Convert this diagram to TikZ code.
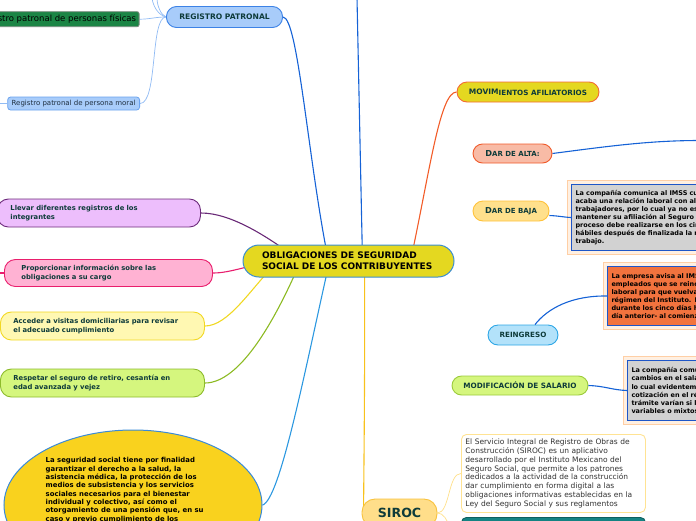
\documentclass[tikz,border=0pt]{standalone}
\usepackage{fontspec}
\setmainfont{DejaVu Sans}
\usetikzlibrary{shapes.geometric,calc}
\pgfdeclarelayer{bg}
\pgfsetlayers{bg,main}
\definecolor{centralfill}{HTML}{E4D820}
\definecolor{centralborder}{HTML}{3A8DD0}
\definecolor{rpfill}{HTML}{A8CCFA}
\definecolor{rpborder}{HTML}{3C82E6}
\definecolor{fisfill}{HTML}{1B8545}
\definecolor{fisborder}{HTML}{7A8A7E}
\definecolor{moralborder}{HTML}{6AA2EE}
\definecolor{moraltxt}{HTML}{1F2F3F}
\definecolor{movborder}{HTML}{F36A33}
\definecolor{altafill}{HTML}{F8BBA6}
\definecolor{altaborder}{HTML}{F05A2A}
\definecolor{bajafill}{HTML}{FFE08C}
\definecolor{bajaborder}{HTML}{FFC23A}
\definecolor{reinfill}{HTML}{B3E2FA}
\definecolor{reinborder}{HTML}{2CA6E6}
\definecolor{modfill}{HTML}{D5F67E}
\definecolor{modborder}{HTML}{9CCB3C}
\definecolor{infogray}{HTML}{D2D2D2}
\definecolor{infoblue}{HTML}{1E56C8}
\definecolor{peachdark}{HTML}{FFCFA5}
\definecolor{peachlight}{HTML}{FFF0E2}
\definecolor{reinbox}{HTML}{F2733E}
\definecolor{lavfill}{HTML}{EDBEFC}
\definecolor{lavborder}{HTML}{6E2C7C}
\definecolor{pinkfill}{HTML}{FFB2D3}
\definecolor{pinkborder}{HTML}{E91E6C}
\definecolor{yelfill}{HTML}{FFF8B2}
\definecolor{yelborder}{HTML}{F2D823}
\definecolor{grnfill}{HTML}{D5F67E}
\definecolor{grnborder}{HTML}{8DBB2C}
\definecolor{finfill}{HTML}{F9D21E}
\definecolor{finborder}{HTML}{3A8AD8}
\definecolor{sirocfill}{HTML}{FFDE8A}
\definecolor{sirocborder}{HTML}{F8C23C}
\definecolor{descborder}{HTML}{FFE393}
\definecolor{desctxt}{HTML}{333333}
\definecolor{tealfill}{HTML}{148383}
\definecolor{tealborder}{HTML}{0D5F5F}
\definecolor{txtteal}{HTML}{0E3B3A}
\definecolor{lineblue}{HTML}{1562D6}
\definecolor{linelightblue}{HTML}{90BBF4}
\definecolor{lineorange}{HTML}{F25C28}
\definecolor{linepurple}{HTML}{6A2A78}
\definecolor{linepink}{HTML}{E81E6E}
\definecolor{lineyellow}{HTML}{F0D822}
\definecolor{linegreen}{HTML}{8CBA22}
\definecolor{linefin}{HTML}{2C98E0}
\definecolor{linegold}{HTML}{F8C21C}
\definecolor{linegoldlight}{HTML}{FFE08A}
\tikzset{
  mmnode/.style={draw, line width=0.9pt, inner sep=0pt, text=txtteal, font=\fontsize{7.2}{8}\selectfont\bfseries},
  sidebox/.style={draw, line width=0.9pt, rounded corners=11pt, anchor=west, align=left, minimum height=28pt, inner ysep=0pt, text=txtteal, font=\fontsize{6.8}{8.8}\selectfont\bfseries},
  infobox/.style={draw=infoblue, line width=1pt, preaction={draw=peachdark, line width=9pt}, preaction={draw=peachlight, line width=7pt}, anchor=north west, align=left, text width=220pt, inner xsep=4pt, inner ysep=0pt, text=black, font=\fontsize{6.5}{8.1}\selectfont\bfseries},
  conn/.style={line width=1.1pt},
  thinconn/.style={line width=0.7pt}
}
\begin{document}
\begin{tikzpicture}[x=1pt,y=-1pt]
\useasboundingbox (0,0) rectangle (696,520);
\begin{scope}
\clip (0,0) rectangle (696,520);
% central
\node[mmnode, draw=centralborder, fill=centralfill, line width=1pt, rounded corners=16pt, minimum width=211pt, minimum height=32pt, text width=173pt, align=left, text=black, font=\fontsize{9}{11}\selectfont\bfseries] (central) at (348.5,261) {OBLIGACIONES DE SEGURIDAD\\SOCIAL DE LOS CONTRIBUYENTES};
% registro patronal
\node[mmnode, draw=rpborder, fill=rpfill, rounded corners=10pt, minimum width=116pt, minimum height=21pt, font=\fontsize{7.6}{8}\selectfont\bfseries] (rp) at (224.5,17) {REGISTRO PATRONAL};
\node[draw=fisborder, fill=fisfill, line width=0.8pt, rounded corners=2pt, anchor=east, minimum height=15pt, inner xsep=3pt, inner ysep=0pt, text=black, font=\fontsize{8.5}{9}\selectfont] (fis) at (139.5,19.2) {Registro patronal de personas físicas};
\node[draw=moralborder, fill=rpfill, line width=0.8pt, rounded corners=3pt, anchor=east, minimum height=13pt, inner xsep=4pt, inner ysep=0pt, text=moraltxt, font=\fontsize{7}{8}\selectfont] (moral) at (140,103.5) {Registro patronal de persona moral};
% right side
\node[mmnode, draw=movborder, fill=centralfill, rounded corners=10pt, minimum width=142pt, minimum height=20pt] (mov) at (528,92) {\raisebox{0.6pt}{\fontsize{7.5}{8}\selectfont MOVIM}IENTOS AFILIATORIOS};
\node[mmnode, draw=altaborder, fill=altafill, rounded corners=9.5pt, minimum width=79pt, minimum height=19pt] (alta) at (512.5,153.5) {{\fontsize{8.2}{8}\selectfont D}{\fontsize{7}{8}\selectfont AR DE ALTA:}};
\node[mmnode, draw=bajaborder, fill=bajafill, rounded corners=10pt, minimum width=76pt, minimum height=20pt] (baja) at (511,211) {{\fontsize{8.2}{8}\selectfont D}{\fontsize{7}{8}\selectfont AR DE BAJA}};
\node[mmnode, draw=reinborder, fill=reinfill, rounded corners=10pt, minimum width=70pt, minimum height=20pt] (rein) at (523,335) {REINGRESO};
\node[mmnode, draw=modborder, fill=modfill, rounded corners=9.5pt, minimum width=136pt, minimum height=19pt, font=\fontsize{7.3}{8}\selectfont\bfseries] (modif) at (520,385.5) {MODIFICACIÓN DE SALARIO};
\node[infobox, fill=infogray, minimum height=66pt] (bajatxt) at (571,184) {La compañía comunica al IMSS cuando se\\acaba una relación laboral con alguno de sus\\trabajadores, por lo cual ya no es necesario\\mantener su afiliación al Seguro Social. Este\\proceso debe realizarse en los cinco días\\hábiles después de finalizada la relación de\\trabajo.};
\node[infobox, fill=reinbox, minimum height=59pt] (reintxt) at (607,266) {La empresa avisa al IMSS de los\\empleados que se reincorporan a la relación\\laboral para que vuelvan a estar bajo el\\régimen del Instituto. Este trámite se hace\\durante los cinco días hábiles -o incluso el\\día anterior- al comienzo de la relación.};
\node[infobox, fill=infogray, minimum height=60pt] (modtxt) at (627,360) {La compañía comunica al IMSS los\\cambios en el salario de sus trabajadores,\\lo cual evidentemente altera la\\cotización en el régimen. Plazos del\\trámite varían si los salarios son fijos,\\variables o mixtos.};
% left side
\node[sidebox, draw=lavborder, fill=lavfill, inner xsep=13pt, text width=177pt] (lav) at (-3,213) {Llevar diferentes registros de los\\integrantes};
\node[sidebox, draw=pinkborder, fill=pinkfill, inner xsep=17pt, text width=174pt, minimum height=27pt] (pink) at (4,273) {Proporcionar información sobre las\\obligaciones a su cargo};
\node[sidebox, draw=yelborder, fill=yelfill, inner xsep=13pt, text width=178pt] (yel) at (0,326) {Acceder a visitas domiciliarias para revisar\\el adecuado cumplimiento};
\node[sidebox, draw=grnborder, fill=grnfill, inner xsep=13pt, text width=178pt] (grn) at (0,383) {Respetar el seguro de retiro, cesantía en\\edad avanzada y vejez};
% ellipse
\node[ellipse, draw=finborder, fill=finfill, line width=1pt, minimum width=258pt, minimum height=150pt, inner sep=0pt] (fin) at (133,505) {};
\node[anchor=north west, align=left, inner sep=0pt, text=black, font=\fontsize{6.9}{8.3}\selectfont\bfseries] (fintxt) at (45.5,457.5) {La seguridad social tiene por finalidad\\garantizar el derecho a la salud, la\\asistencia médica, la protección de los\\medios de subsistencia y los servicios\\sociales necesarios para el bienestar\\individual y colectivo, así como el\\otorgamiento de una pensión que, en su\\caso y previo cumplimiento de los};
% SIROC
\node[mmnode, draw=sirocborder, fill=sirocfill, rounded corners=13pt, minimum width=75pt, minimum height=28pt, font=\fontsize{12.6}{13}\selectfont\bfseries] (siroc) at (399.5,513) {SIROC};
\node[draw=descborder, fill=white, line width=0.9pt, rounded corners=5pt, anchor=north west, minimum width=184pt, minimum height=78pt, text width=176pt, inner xsep=4pt, inner ysep=0pt, align=left, text=desctxt, font=\fontsize{7.5}{8.8}\selectfont] (desc) at (461,434) {El Servicio Integral de Registro de Obras de\\Construcción (SIROC) es un aplicativo\\desarrollado por el Instituto Mexicano del\\Seguro Social, que permite a los patrones\\dedicados a la actividad de la construcción\\dar cumplimiento en forma digital a las\\obligaciones informativas establecidas en la\\Ley del Seguro Social y sus reglamentos};
\node[draw=tealborder, fill=tealfill, line width=0.9pt, rounded corners=5pt, anchor=north west, minimum width=184pt, minimum height=45pt] (teal) at (461,517) {};
% free ends
\coordinate (topfree) at (357,-2);
\coordinate (altaend) at (700,140.5);
\coordinate (up1) at (152,-2);
\coordinate (up2) at (157,-2);
\coordinate (moralend) at (-2,103.5);
\coordinate (pinkend) at (-2,273);
% connectors drawn over frames
\draw[conn, lineblue] ($(baja.east)+(0,4.5)$) .. controls (560,216) and (562,217) .. (bajatxt.west);
\draw[conn, lineblue] (modif.east) .. controls (605,386) and (612,390) .. (modtxt.west);
\draw[conn, lineblue] ($(rein.north)+(12,0)$) .. controls (548,308) and (572,295.5) .. (reintxt.west);
\end{scope}
\begin{pgfonlayer}{bg}
\clip (0,0) rectangle (696,520);
\draw[conn, lineblue] (rp.east) .. controls (298,17) and (308,160) .. ($(central.center)+(-20,0)$);
\draw[conn, lineblue] (topfree) -- ($(central.center)+(14,0)$);
\draw[conn, lineorange] ($(central.center)+(62,0)$) .. controls (430,170) and (440,92) .. (mov.west);
\draw[conn, lineblue] (alta.east) .. controls (610,146) and (650,140.5) .. (altaend);
\draw[conn, linepurple] (lav.east) .. controls (230,213) and (265,235) .. ($(central.center)+(-55,-5)$);
\draw[conn, linepink] (pink.east) .. controls (230,273) and (245,266) .. ($(central.center)+(-80,2)$);
\draw[conn, lineyellow] (yel.east) .. controls (228,326) and (250,290) .. ($(central.center)+(-75,5)$);
\draw[conn, linegreen] (grn.east) .. controls (240,383) and (275,320) .. ($(central.center)+(-50,5)$);
\draw[conn, linefin] (fin.east) .. controls (280,500) and (305,370) .. ($(central.center)+(-20,5)$);
\draw[conn, linegold] ($(central.center)+(16,0)$) .. controls (365,380) and (364,450) .. ($(siroc.west)+(2,0)$);
\draw[thinconn, linegoldlight] (siroc.east) .. controls (450,513) and (448,473) .. (desc.west);
\draw[thinconn, linegoldlight] (siroc.east) .. controls (450,513) and (450,541) .. (teal.west);
\draw[thinconn, linelightblue] (rp.west) .. controls (155,17) and (150,19.2) .. (fis.east);
\draw[thinconn, linelightblue] (rp.west) .. controls (150,17) and (158,103.5) .. (moral.east);
\draw[thinconn, linelightblue] (rp.west) .. controls (158,15) and (153,6) .. (up1);
\draw[thinconn, linelightblue] (rp.west) .. controls (161,15) and (157,6) .. (up2);
\draw[thinconn, linelightblue] (moral.west) -- (moralend);
\draw[conn, linepink] (pink.west) -- (pinkend);
\end{pgfonlayer}
\end{tikzpicture}
\end{document}
